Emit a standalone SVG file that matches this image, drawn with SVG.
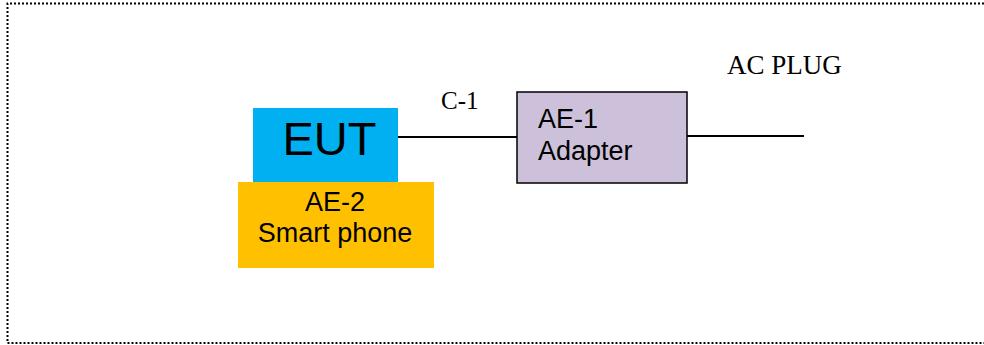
<svg xmlns="http://www.w3.org/2000/svg" width="984" height="345" viewBox="0 0 984 345">
<style>
.sans{font-family:"Liberation Sans",Arial,sans-serif;fill:#000}
.serif{font-family:"Liberation Serif","Times New Roman",serif;fill:#000}
.wire{stroke:#000;stroke-width:2;fill:none}
</style>
<path d="M984 3.5 H7.5 V343 H984" fill="none" stroke="#000" stroke-width="2" stroke-dasharray="2,2"/>
<g id="connectors">
<line class="wire" x1="398" y1="137" x2="517" y2="137"/>
<line class="wire" x1="687" y1="136" x2="804" y2="136"/>
</g>
<g id="eut">
<rect x="253" y="108" width="145" height="74" fill="#00B0F0"/>
<text class="sans" x="329.5" y="155" font-size="47" text-anchor="middle">EUT</text>
</g>
<g id="ae2">
<rect x="238" y="182" width="196" height="86" fill="#FFC000"/>
<text class="sans" x="335" y="211" font-size="27" text-anchor="middle">AE-2</text>
<text class="sans" x="335" y="242" font-size="27" text-anchor="middle">Smart phone</text>
</g>
<g id="ae1">
<rect x="517" y="92" width="170" height="91" fill="#CCC0DA" stroke="#000" stroke-width="1.5"/>
<text class="sans" x="538" y="128" font-size="27">AE-1</text>
<text class="sans" x="538" y="160" font-size="27">Adapter</text>
</g>
<g id="labels">
<text class="serif" x="441" y="109" font-size="25">C-1</text>
<text class="serif" x="727" y="74" font-size="27">AC PLUG</text>
</g>
</svg>
